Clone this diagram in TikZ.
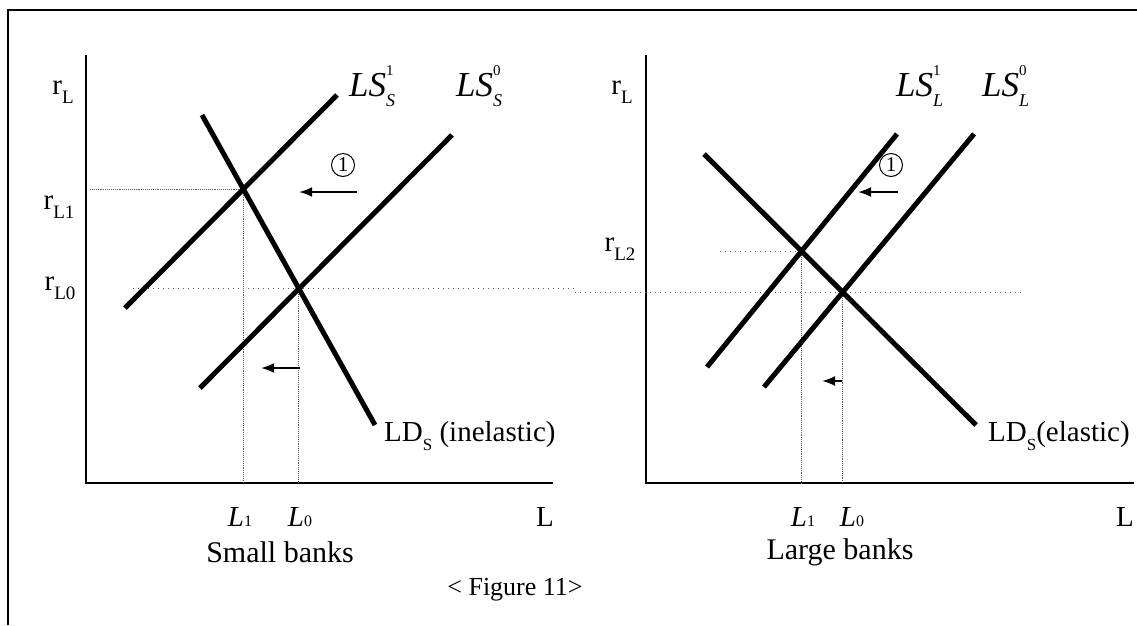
\documentclass[tikz,border=0pt]{standalone}
\usepackage{fontspec}
\setmainfont{Liberation Serif}
\usetikzlibrary{arrows.meta,calc}
\newcommand{\fs}[1]{\fontsize{#1}{#1}\selectfont}
\newcommand{\lslab}[2]{\textit{LS}\makebox[0pt][l]{\raisebox{0.62em}{\fs{15}#1}}\raisebox{-0.28em}{\fs{18}\textit{#2}}}
\newcommand{\rlab}[1]{r\raisebox{-0.3em}{\fs{19}#1}}
\newcommand{\llab}[1]{\textit{L}{\fs{16}#1}}
\begin{document}
\begin{tikzpicture}[x=1pt,y=-1pt,
  curve/.style={line width=5pt},
  axis/.style={line width=2.4pt},
  frameline/.style={line width=2.6pt},
  guide/.style={line width=0.9pt,densely dotted,black!65},
  sparseguide/.style={line width=1pt,dash pattern=on 1pt off 4pt,black!65},
  shiftarrow/.style={line width=2pt,-{Latex[length=13pt,width=10pt]}},
  lbl/.style={inner sep=0pt,font=\fs{29}},
  lslbl/.style={inner sep=0pt,anchor=west,font=\fs{35}},
  circ/.style={circle,draw,line width=1pt,inner sep=0pt,minimum size=23pt,font=\fs{21}}]
\useasboundingbox (0,0) rectangle (1137,625);
% frame
\coordinate (ftl) at (8,10);
\coordinate (ftr) at (1137,10);
\coordinate (fbl) at (8,625);
\draw[frameline] (fbl) -- (ftl) -- (ftr);

% ================= left panel =================
\coordinate (ytopA) at (86,55);
\coordinate (oA) at (86,483);
\coordinate (xendA) at (553,483);
\draw[axis] (ytopA) -- (oA) -- (xendA);

\coordinate (ls1a) at (125,308); \coordinate (ls1b) at (337,95);
\coordinate (ls0a) at (200,388); \coordinate (ls0b) at (452,135);
\coordinate (lda) at (202,115); \coordinate (ldb) at (375,425);
\coordinate (E1) at (intersection of ls1a--ls1b and lda--ldb);
\coordinate (E0) at (intersection of ls0a--ls0b and lda--ldb);

\coordinate (h1s) at (90,188);
\coordinate (h0s) at (133,290);
\coordinate (h0e) at (575,290);
\draw[guide] (h1s |- E1) -- (E1);
\draw[guide] (E1) -- (E1 |- oA);
\draw[sparseguide] (h0s |- E0) -- (h0e |- E0);
\draw[guide] (E0) -- (E0 |- oA);

\draw[curve] (ls1a) -- (ls1b);
\draw[curve] (ls0a) -- (ls0b);
\draw[curve] (lda) -- (ldb);

\coordinate (a1s) at (357,192); \coordinate (a1e) at (299,192);
\draw[shiftarrow] (a1s) -- (a1e);
\node[circ] (c1) at (343,165) {1};
\coordinate (a2s) at (300,368); \coordinate (a2e) at (261,368);
\draw[shiftarrow] (a2s) -- (a2e);

\node[lbl] (rLA) at (63,92) {\rlab{L}};
\node[lbl] (rL1) at (59,207) {\rlab{L1}};
\node[lbl] (rL0) at (60,288) {\rlab{L0}};
\node[lslbl] (LS1S) at (349,86) {\lslab{1}{S}};
\node[lslbl] (LS0S) at (456,86) {\lslab{0}{S}};
\node[lbl,anchor=west] (LDSa) at (384,436) {LD\raisebox{-0.3em}{\fs{17}S} (inelastic)};
\node[lbl] (L1A) at (240,517) {\llab{1}};
\node[lbl] (L0A) at (300,517) {\llab{0}};
\node[lbl] (LA) at (545,517) {L};
\node[lbl,font=\fs{30}] (smallb) at (280,552) {Small banks};
\node[lbl,font=\fs{26}] (fig) at (515,590) {< Figure 11>};

% ================= right panel =================
\coordinate (ytopB) at (646,55);
\coordinate (oB) at (646,483);
\coordinate (xendB) at (1134,483);
\draw[axis] (ytopB) -- (oB) -- (xendB);

\coordinate (ms1a) at (707,367); \coordinate (ms1b) at (897,134);
\coordinate (ms0a) at (764,387); \coordinate (ms0b) at (974,134);
\coordinate (mda) at (704,154); \coordinate (mdb) at (976,425);
\coordinate (E2) at (intersection of ms1a--ms1b and mda--mdb);
\coordinate (E3) at (intersection of ms0a--ms0b and mda--mdb);

\coordinate (h2s) at (720,250);
\coordinate (h3s) at (575,290);
\coordinate (h3e) at (1022,290);
\draw[sparseguide] (h2s |- E2) -- (E2);
\draw[guide] (E2) -- (E2 |- oB);
\draw[sparseguide] (h3s |- E3) -- (h3e |- E3);
\draw[guide] (E3) -- (E3 |- oB);

\draw[curve] (ms1a) -- (ms1b);
\draw[curve] (ms0a) -- (ms0b);
\draw[curve] (mda) -- (mdb);

\coordinate (b1s) at (898,192); \coordinate (b1e) at (858,192);
\draw[shiftarrow] (b1s) -- (b1e);
\node[circ] (c2) at (891,165) {1};
\coordinate (b2s) at (842,381); \coordinate (b2e) at (822,381);
\draw[shiftarrow] (b2s) -- (b2e);

\node[lbl] (rLB) at (622,92) {\rlab{L}};
\node[lbl] (rL2) at (620,249) {\rlab{L2}};
\node[lslbl] (LS1L) at (896,86) {\lslab{1}{L}};
\node[lslbl] (LS0L) at (982,86) {\lslab{0}{L}};
\node[lbl,anchor=west] (LDSb) at (988,436) {LD\raisebox{-0.3em}{\fs{17}S}(elastic)};
\node[lbl] (L1B) at (803,517) {\llab{1}};
\node[lbl] (L0B) at (852,517) {\llab{0}};
\node[lbl] (LB) at (1125,517) {L};
\node[lbl,font=\fs{30}] (largeb) at (840,552) {Large banks};
\end{tikzpicture}
\end{document}
